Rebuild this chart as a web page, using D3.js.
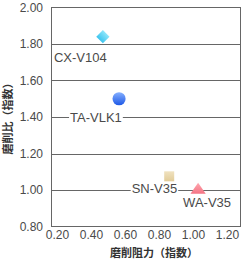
<!DOCTYPE html>
<html lang="ja">
<head>
<meta charset="utf-8">
<title>磨削比と磨削阻力</title>
<script src="https://d3js.org/d3.v7.min.js"></script>
<style>
  body { margin: 0; background: #fff; }
  svg text { font-family: "Liberation Sans", Arial, sans-serif; fill: #4a4a4a; }
  .title { font-family: "Noto Sans CJK JP", sans-serif; font-weight: bold; font-size: 11px; fill: #333; }
</style>
</head>
<body>
<script>
// data
const names = ["CX-V104", "TA-VLK1", "SN-V35", "WA-V35"];
const resistance = [0.47, 0.565, 0.86, 1.03];   // x
const ratio = [1.84, 1.50, 1.075, 1.00];         // y
const xTicks = [0.20, 0.40, 0.60, 0.80, 1.00, 1.20];
const yTicks = [0.80, 1.00, 1.20, 1.40, 1.60, 1.80, 2.00];

const w = 252, h = 264;
const frame = {left: 51, right: 240, top: 7.5, bottom: 226.5};

const svg = d3.select("body").append("svg").attr("width", w).attr("height", h);

const defs = svg.append("defs");
function grad(id, c1, c2) {
  const g = defs.append("linearGradient").attr("id", id)
    .attr("x1", 0).attr("y1", 0).attr("x2", 0).attr("y2", 1);
  g.append("stop").attr("offset", "0%").attr("stop-color", c1);
  g.append("stop").attr("offset", "100%").attr("stop-color", c2);
}
grad("gCyan", "#8ee6fb", "#3cc4ee");
grad("gBlue", "#86b0ff", "#1d58e6");
grad("gTan", "#f0e2c0", "#e2cc98");
grad("gPink", "#ffa8b0", "#f47484");

const x = d3.scaleLinear().domain([0.2, 1.2]).range([57, 227]);
const y = d3.scaleLinear().domain([0.8, 2.0]).range([frame.bottom, frame.top]);

// grid lines
svg.append("g").selectAll("line")
  .data(yTicks.filter(d => d > 0.8 && d < 2.0))
  .join("line")
  .attr("x1", frame.left).attr("x2", frame.right)
  .attr("y1", d => Math.round(y(d)) + 0.5).attr("y2", d => Math.round(y(d)) + 0.5)
  .attr("stroke", "#666").attr("stroke-width", 1);

// frame
svg.append("rect")
  .attr("x", frame.left + 0.5).attr("y", frame.top)
  .attr("width", frame.right - frame.left).attr("height", frame.bottom - frame.top)
  .attr("fill", "none").attr("stroke", "#666").attr("stroke-width", 1);

// axes (labels only)
const yAxis = d3.axisLeft(y).tickValues(yTicks).tickFormat(d3.format(".2f")).tickSize(0).tickPadding(8);
svg.append("g").attr("transform", `translate(${frame.left},0)`).call(yAxis)
  .call(g => g.select(".domain").remove())
  .selectAll("text").style("font-size", "12px").attr("fill", "#555");

const xAxis = d3.axisBottom(x).tickValues(xTicks).tickFormat(d3.format(".2f")).tickSize(0).tickPadding(4);
svg.append("g").attr("transform", `translate(0,${frame.bottom})`).call(xAxis)
  .call(g => g.select(".domain").remove())
  .selectAll("text").style("font-size", "12px").attr("fill", "#555");

// axis titles
svg.append("text").attr("class", "title")
  .attr("x", 154).attr("y", 257).attr("text-anchor", "middle").text("磨削阻力（指数）");
svg.append("text").attr("class", "title")
  .attr("transform", "translate(12,116) rotate(-90)").attr("text-anchor", "middle").text("磨削比（指数）");

// point labels: anchor and offset relative to the point
const labelStyle = {
  "CX-V104": {dx: -49, dy: 25, anchor: "start", bg: false},
  "TA-VLK1": {dx: -49, dy: 23, anchor: "start", bg: true},
  "SN-V35": {dx: 8, dy: 17, anchor: "end", bg: true},
  "WA-V35": {dx: -15, dy: 17, anchor: "start", bg: true}
};
const pts = names.map((n, i) => ({name: n, x: resistance[i], y: ratio[i]}));

const lab = svg.append("g").selectAll("g").data(pts).join("g");
lab.each(function(d) {
  const s = labelStyle[d.name];
  const g = d3.select(this);
  const t = g.append("text")
    .attr("x", x(d.x) + s.dx).attr("y", y(d.y) + s.dy)
    .attr("text-anchor", s.anchor)
    .style("font-size", "13px").attr("fill", "#505050")
    .text(d.name);
  if (s.bg) {
    const b = t.node().getBBox();
    g.insert("rect", "text").attr("x", b.x - 1).attr("y", b.y).attr("width", b.width + 2).attr("height", b.height).attr("fill", "#fff");
  }
});

// markers
const symbols = [
  {type: d3.symbolSquare, size: 88, fill: "url(#gCyan)", scaleX: 1, rot: 45},
  {type: d3.symbolCircle, size: 135, fill: "url(#gBlue)", scaleX: 1, rot: 0},
  {type: d3.symbolSquare, size: 100, fill: "url(#gTan)", scaleX: 1, rot: 0},
  {type: d3.symbolTriangle, size: 70, fill: "url(#gPink)", scaleX: 1.2, rot: 0}
];
svg.append("g").selectAll("path").data(pts).join("path")
  .attr("transform", (d, i) => `translate(${x(d.x)},${y(d.y)}) scale(${symbols[i].scaleX},1) rotate(${symbols[i].rot})`)
  .attr("d", (d, i) => d3.symbol().type(symbols[i].type).size(symbols[i].size)())
  .attr("fill", (d, i) => symbols[i].fill);
</script>
</body>
</html>
